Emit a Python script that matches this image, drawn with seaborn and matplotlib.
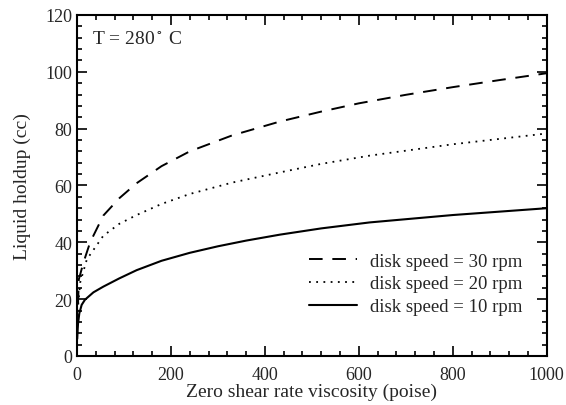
import numpy as np
import pandas as pd
import matplotlib
matplotlib.use("Agg")
import matplotlib.pyplot as plt
from matplotlib.ticker import MultipleLocator
import seaborn as sns

# --- okunan degerler (grafikten) ---
x_10 = [0.5, 2, 5, 10, 17, 35, 56, 90, 127, 180, 240, 300, 360, 432, 520, 623, 800, 1000]
y_10 = [6, 11, 15, 18, 19.8, 22.4, 24.4, 27.3, 30.2, 33.5, 36.3, 38.6, 40.6, 42.7, 44.9, 47.0, 49.6, 52.0]

x_20 = [0.5, 2, 7, 21, 56, 90, 127, 180, 240, 330, 432, 520, 623, 800, 1000]
y_20 = [8, 17, 26, 34, 42.3, 46.5, 49.6, 53.5, 57.0, 61.0, 64.6, 67.6, 70.5, 74.5, 78.3]

x_30 = [0.5, 4, 14, 28, 56, 90, 127, 180, 240, 330, 432, 520, 600, 700, 800, 900, 1000]
y_30 = [10, 27, 33, 40, 49.4, 55.5, 60.8, 66.8, 72.0, 77.6, 82.5, 86.0, 88.9, 91.9, 94.6, 97.1, 99.5]

etiketler = ["disk speed = 30 rpm", "disk speed = 20 rpm", "disk speed = 10 rpm"]

sns.set_style("ticks")
plt.rcParams['font.family'] = ['Liberation Serif', 'DejaVu Serif']
plt.rcParams['mathtext.fontset'] = 'stix'

fig = plt.figure(figsize=(5.66, 4.06), dpi=100)
ax = fig.add_axes([0.136, 0.1207, 0.830, 0.840])

sns.lineplot(x=x_30, y=y_30, ax=ax, color='black', lw=1.4, label=etiketler[0],
             estimator=None)
ax.lines[-1].set_dashes([7, 5])
sns.lineplot(x=x_20, y=y_20, ax=ax, color='black', lw=1.3, label=etiketler[1],
             estimator=None)
ax.lines[-1].set_linestyle((0, (1, 3)))
sns.lineplot(x=x_10, y=y_10, ax=ax, color='black', lw=1.5, label=etiketler[2],
             estimator=None)

ax.set_xlim(0, 1000)
ax.set_ylim(0, 120)
ax.xaxis.set_major_locator(MultipleLocator(200))
ax.xaxis.set_minor_locator(MultipleLocator(40))
ax.yaxis.set_major_locator(MultipleLocator(20))
ax.yaxis.set_minor_locator(MultipleLocator(4))
ax.tick_params(which='both', direction='in', top=True, right=True, labelsize=13,
               color='black', width=1.2)
ax.tick_params(which='major', length=7)
ax.tick_params(which='minor', length=3.5)
ax.tick_params(axis='x', which='major', pad=7)
for s in ax.spines.values():
    s.set_linewidth(1.5)
    s.set_color('black')

ax.set_xlabel('Zero shear rate viscosity (poise)', fontsize=14, labelpad=0)
ax.set_ylabel('Liquid holdup (cc)', fontsize=14, labelpad=10)
ax.text(0.033, 0.955, 'T = 280$^\\circ$ C', transform=ax.transAxes, fontsize=14,
        va='top', ha='left')

ax.legend(loc='lower right', frameon=False, fontsize=13.5, handlelength=2.6,
          handletextpad=0.7, labelspacing=0.3, bbox_to_anchor=(0.985, 0.07))

fig.savefig('out.png', dpi=100)
